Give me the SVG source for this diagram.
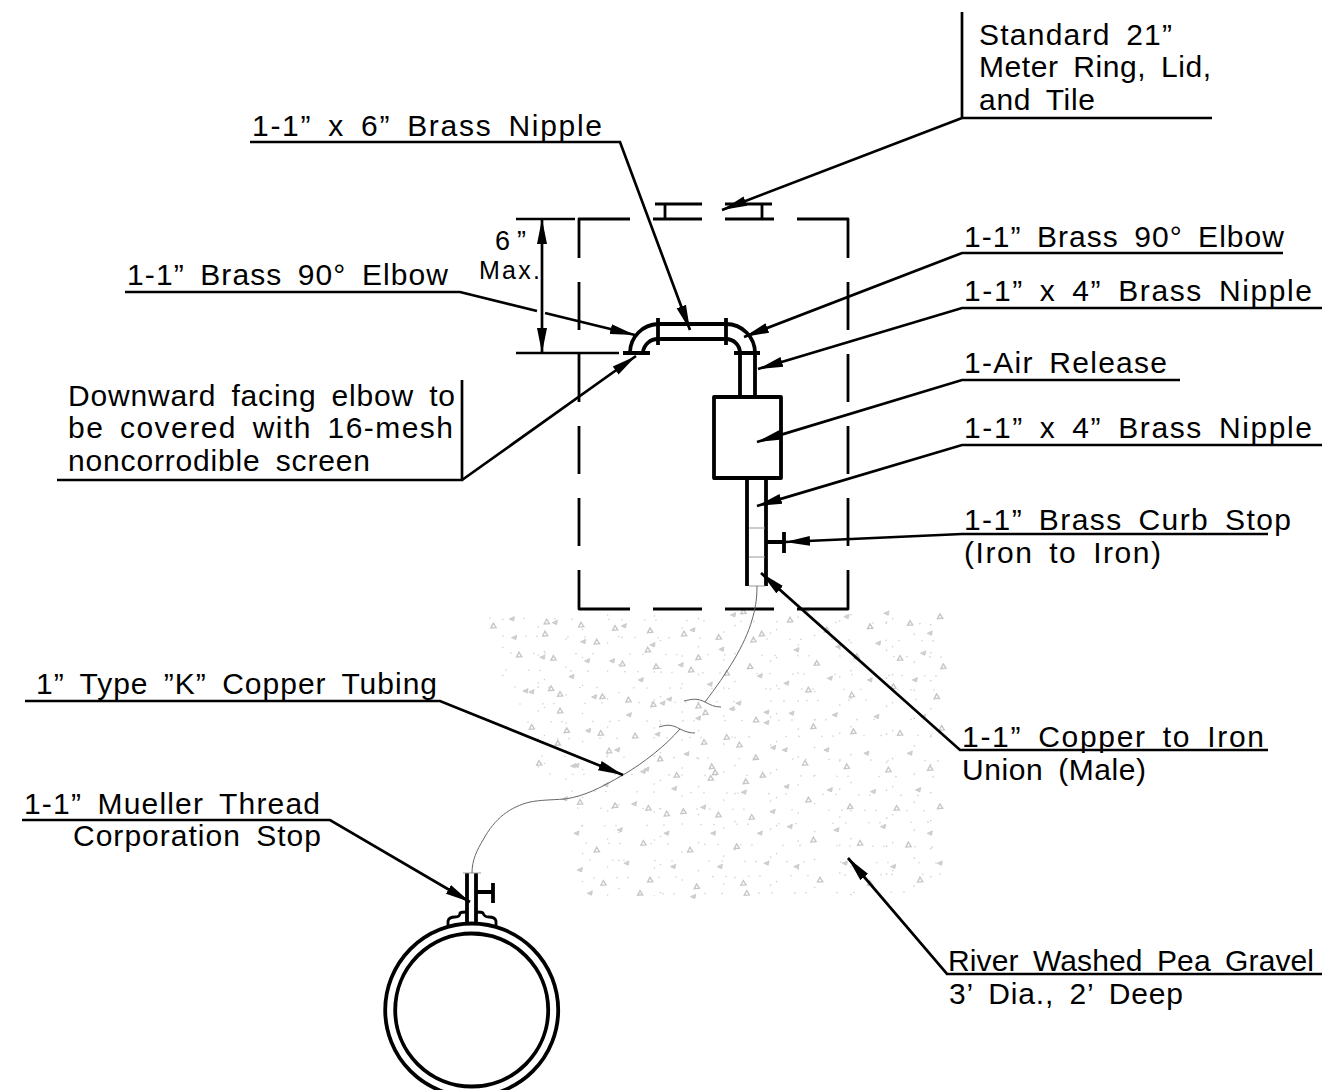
<svg xmlns="http://www.w3.org/2000/svg" width="1322" height="1090" viewBox="0 0 1322 1090">
<style>
text{font-family:"Liberation Sans",Arial,sans-serif;font-size:30px;word-spacing:6px;fill:#000}
.l{fill:none;stroke:#000;stroke-width:2.7}
.ld{fill:none;stroke:#000;stroke-width:2.7;marker-end:url(#ah)}
.t{fill:none;stroke:#000;stroke-width:3.8;stroke-linejoin:round}
.g{fill:none;stroke:#999;stroke-width:1}
.c{fill:none;stroke:#666;stroke-width:1}
.d{fill:none;stroke:#cfcfcf;stroke-width:1.6;stroke-linecap:round;stroke-dasharray:0 23 0 11 0 31 0 17 0 37 0 13}
.tr{fill:none;stroke:none}
</style>
<defs>
<marker id="ah" markerUnits="userSpaceOnUse" markerWidth="26" markerHeight="12" viewBox="0 0 26 12" refX="25" refY="6" orient="auto"><path d="M0 1L25 6L0 11z" fill="#000"/></marker>
<marker id="ah0" markerUnits="userSpaceOnUse" markerWidth="26" markerHeight="12" viewBox="0 0 26 12" refX="25" refY="6" orient="auto-start-reverse"><path d="M0 1L25 6L0 11z" fill="#000"/></marker>
<marker id="t1" markerUnits="userSpaceOnUse" markerWidth="24" markerHeight="24" viewBox="0 0 20 20" refX="10" refY="10"><path d="M4 15L10 3L17 14z" fill="none" stroke="#c6c6c6" stroke-width="3.4"/></marker>
<marker id="t2" markerUnits="userSpaceOnUse" markerWidth="24" markerHeight="24" viewBox="0 0 20 20" refX="10" refY="10"><path d="M3 10L16 4L14 15z" fill="#d0d0d0" stroke="#c6c6c6" stroke-width="2"/></marker>
<clipPath id="gr"><path d="M488 614H945V896H590L570 860V790L530 770L500 680z"/></clipPath>
</defs>

<g id="gravel">
<g clip-path="url(#gr)">
<path class="d" d="M490 618l455 6M503 636l440 5M511 653l432 4M506 670l437 6M515 687l428 3M520 704l425-5M528 722l416-3M535 739l408-4M542 756l403 5M550 774l394 3M572 791l372 5M578 808l367 3M582 826l361-4M586 843l357 4M590 860l354 3M594 878l350-4M640 894l280-2"/>
<path class="d" style="stroke-dasharray:0 19 0 29 0 13 0 41 0 7 0 25" d="M450 650l520-300M450 678l520-300M450 706l520-300M450 734l520-300M450 762l520-300M450 790l520-300M450 818l520-300M450 846l520-300M450 874l520-300M450 902l520-300M450 930l520-300M450 958l520-300M450 986l520-300M450 1014l520-300M450 1042l520-300M450 1070l520-300M450 1098l520-300M450 1126l520-300M450 1154l520-300M450 1182l520-300"/>
</g>
<g transform="translate(480 600) scale(.3333)">
<path class="tr" marker-start="url(#t1)" marker-mid="url(#t1)" marker-end="url(#t1)" d="M40 78L200 66L303 75L405 85L510 92L612 102L716 112L790 35L845 102L820 120L195 102L350 126L503 150L655 173L117 165L220 175L427 192L528 200L633 210L810 200L740 220L213 266L240 283L367 290L445 300L520 314L655 318L676 338L828 360L240 333L155 382L260 392L362 400L465 408L740 412L672 427L778 435L233 430L387 453L827 473L177 490L540 477L695 500L705 518L692 535L848 526L797 545L590 526L300 607L405 617L505 625L560 642L610 635L715 645L815 652L930 60L1040 90L1170 80L1290 70L1380 50L1010 190L1130 170L1260 175L1390 200L985 270L1115 285L1240 260L1370 290L1000 380L1120 395L1260 400L1385 385L975 490L1100 500L1225 510L1350 505L985 600L1110 620L1250 625L1380 620L1000 720L1140 730L1285 735L1020 840L1170 850L1320 840L350 750L490 730L630 750L770 740L370 850L510 840L650 860L790 850L480 880L800 880"/>
<path class="tr" marker-start="url(#t2)" marker-mid="url(#t2)" marker-end="url(#t2)" d="M96 57L225 68L432 78L638 90L760 45L103 113L310 125L518 135L725 148L188 172L322 183L397 183L603 195L840 228L275 230L483 240L690 253L137 273L155 276L343 291L548 310L568 298L756 327L776 310L860 337L860 368L447 345L655 355L325 392L533 403L880 443L412 450L620 462L290 497L280 498L792 577L490 515L500 508L583 566L378 555L255 597L463 612L670 622L878 635L980 30L1100 50L1220 40L1350 100L950 150L1075 140L1195 130L1330 160L920 250L1050 235L1170 240L1305 240L935 340L1065 345L1190 350L1330 350L915 450L1040 450L1160 460L1290 460L920 560L1050 570L1180 575L1315 570L930 680L1070 690L1210 680L1350 700L950 800L1095 790L1240 800L1380 790L290 700L420 690L560 700L700 700L840 700L300 810L440 790L580 800L720 800L860 790L330 880L640 890"/>
</g>
</g>

<g id="manhole">
<path class="t" style="stroke-width:2.8" d="M579 258V219H630M653 219H702M725 219H774M797 219H848V258M579 282V330M579 354V402M579 426V474M579 498V546M579 570V609H630M653 609H702M725 609H774M797 609H848V570M848 546V498M848 474V426M848 402V354M848 330V282"/>
<path class="l" style="stroke-width:2.8" d="M655 204H702M725 204H772M665 204V219M762 204V219"/>
</g>

<g id="fittings">
<path class="t" d="M658 324H726M658 339H726M658 318V345M726 318V345"/>
<path class="t" d="M658 324A29 29 0 0 0 630 352M658 339A15 15 0 0 0 643 352M623 353H650"/>
<path class="t" d="M726 324A29 29 0 0 1 755 353M726 339A14 14 0 0 1 740 353M734 353H760"/>
<path class="t" d="M740 353V396M755 353V396"/>
</g>
<rect id="air-release" class="t" x="714" y="397" width="67" height="81"/>
<g id="curb-stop">
<path class="t" d="M747 478V586M766 478V586M766 542H784M784 532V553"/>
<path class="g" d="M749 528H765M749 557H765M749 586H765"/>
</g>
<g id="main">
<circle class="t" cx="471.7" cy="1010" r="86.5"/>
<circle class="t" cx="471.7" cy="1010" r="76.5"/>
</g>
<g id="corporation-stop">
<path class="t" d="M467 873V923M476 873V923M476 892H493M493 883V903"/>
<path class="g" d="M463 873H481"/>
<path class="t" style="stroke-width:2.8" d="M448 925V921Q449 917 455 917Q460 917 460 913Q461 912 467 912M476 912Q482 912 483 913Q484 917 489 917Q495 917 496 921V926"/>
</g>
<g id="tubing">
<path class="c" d="M757 586C757 600 755 610 752 620C745 645 727 673 705 702M684 701C692 699 697 698 705 702C711 705 714 707 721 707"/>
<path class="c" d="M659 727C668 724 673 725 680 729C686 732 690 733 695 733M680 729C665 746 645 762 623 775C600 788 585 796 565 799C550 800 540 800 530 802C510 807 495 818 483 840C477 850 472 860 472 873"/>
</g>

<g id="connectors">
<path class="l" d="M516 219H575M516 353H619"/>
<path d="M542 219V353" fill="none" stroke="#000" stroke-width="2.7" marker-start="url(#ah0)" marker-end="url(#ah)"/>
<path class="ld" d="M250 142H620L690 330"/>
<path class="ld" d="M962 12V118H1212M962 118L722 210"/>
<path class="l" d="M125 292H460L537 311"/>
<path class="ld" d="M545 313L635 335"/>
<path class="ld" d="M462 380V480H57M462 480L636 356"/>
<path class="ld" d="M1283 253H962L744 337"/>
<path class="ld" d="M1322 308H962L758 369"/>
<path class="ld" d="M1180 380H962L757 442"/>
<path class="ld" d="M1322 445H962L757 506"/>
<path class="ld" d="M1268 534H962L785 542"/>
<path class="ld" d="M1268 750H960L761 573"/>
<path class="ld" d="M1322 974H947L848 858"/>
<path class="ld" d="M22 820H330L470 902"/>
<path class="ld" d="M25 701H440L623 775"/>
</g>

<g id="labels">
<text x="979" y="45" textLength="193">Standard 21”</text>
<text x="979" y="77" textLength="232">Meter Ring, Lid,</text>
<text x="979" y="110" textLength="116">and Tile</text>
<text x="252" y="136" textLength="350">1-1” x 6” Brass Nipple</text>
<text x="127" y="285" textLength="321">1-1” Brass 90° Elbow</text>
<text x="495" y="250" textLength="31" style="font-size:27px">6”</text>
<text x="479" y="279" textLength="61" style="font-size:25px">Max.</text>
<text x="68" y="406" textLength="387">Downward facing elbow to</text>
<text x="68" y="438" textLength="385">be covered with 16-mesh</text>
<text x="68" y="471" textLength="302">noncorrodible screen</text>
<text x="964" y="247" textLength="320">1-1” Brass 90° Elbow</text>
<text x="964" y="301" textLength="348">1-1” x 4” Brass Nipple</text>
<text x="964" y="373" textLength="203">1-Air Release</text>
<text x="964" y="438" textLength="348">1-1” x 4” Brass Nipple</text>
<text x="964" y="530" textLength="327">1-1” Brass Curb Stop</text>
<text x="964" y="563" textLength="197">(Iron to Iron)</text>
<text x="962" y="747" textLength="302">1-1” Copper to Iron</text>
<text x="962" y="780" textLength="184">Union (Male)</text>
<text x="948" y="971" textLength="366">River Washed Pea Gravel</text>
<text x="949" y="1004" textLength="234">3’ Dia., 2’ Deep</text>
<text x="36" y="694" textLength="401">1” Type ”K” Copper Tubing</text>
<text x="24" y="814" textLength="296">1-1” Mueller Thread</text>
<text x="73" y="846" textLength="248">Corporation Stop</text>
</g>
</svg>
